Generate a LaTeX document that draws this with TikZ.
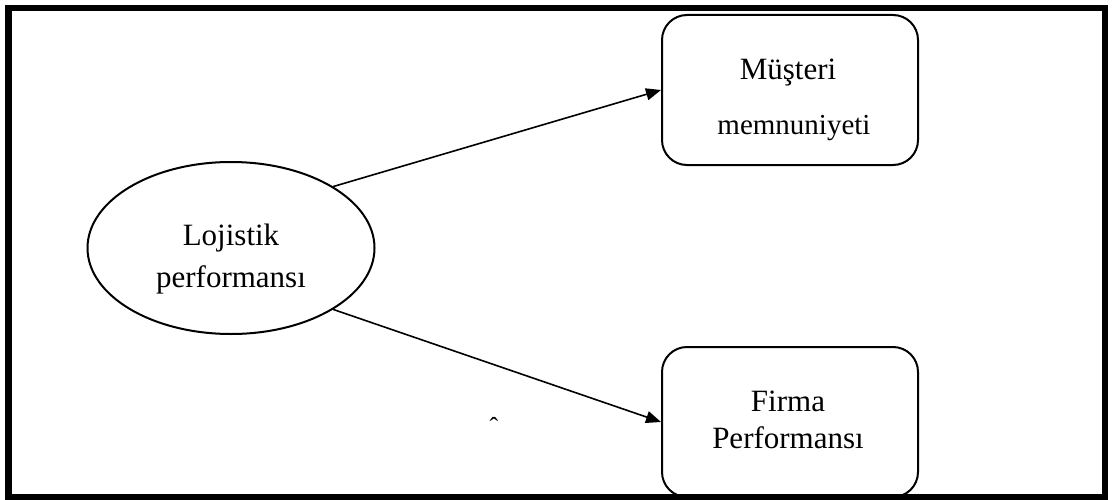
\documentclass[tikz,border=0pt]{standalone}
\usepackage{fontspec}
\setmainfont{Liberation Serif}
\usetikzlibrary{arrows.meta,shapes.geometric}
\begin{document}
\begin{tikzpicture}[x=1pt,y=-1pt,
  boxnode/.style={draw,line width=2pt,rounded corners=25pt,minimum width=256pt,minimum height=150pt,inner sep=0pt},
  ellnode/.style={draw,ellipse,line width=2pt,minimum width=287pt,minimum height=172pt,inner sep=0pt},
  txt/.style={align=center,inner sep=0pt},
  conn/.style={line width=1.6pt,-{Triangle[length=15pt,width=12pt]}}]
\useasboundingbox (0,0) rectangle (1113,500);
\fill[white] (0,0) rectangle (1113,500);
% nodes
\node[ellnode] (lp) at (231,248) {};
\node[boxnode] (mm) at (790,90) {};
\node[boxnode] (fp) at (790,422) {};
% texts
\node[txt,font=\fontsize{31}{42}\selectfont] (lpt) at (231,258.8) {Lojistik\\performansı};
\node[txt,font=\fontsize{31}{55}\selectfont] (mmt) at (794,99.8) {Müşteri\hspace*{12pt}\\{\fontsize{29}{55}\selectfont memnuniyeti}};
\node[txt,font=\fontsize{31}{37}\selectfont] (fpt) at (788,420) {Firma\\Performansı};
\node[inner sep=0pt,anchor=base,font=\fontsize{26}{26}\selectfont] (hat) at (494,435) {ˆ};
% connectors
\draw[conn] (lp.31) -- (mm.west);
\draw[conn] (lp.-31) -- (fp.west);
% frame
\draw[line width=6.5pt] (8.5,8) rectangle (1105,497.5);
\end{tikzpicture}
\end{document}
